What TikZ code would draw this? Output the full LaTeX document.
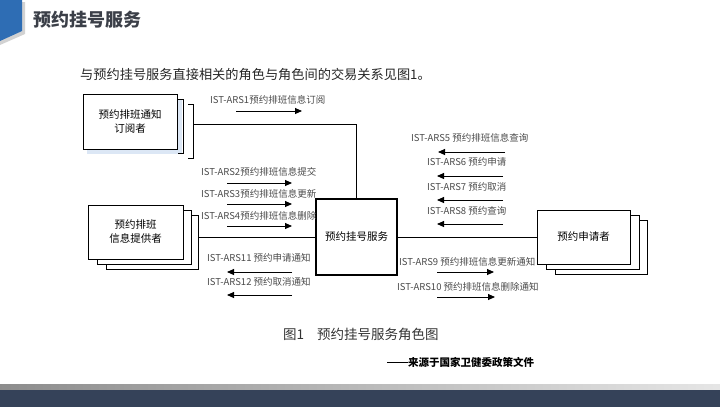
\documentclass[tikz,border=0pt]{standalone}
\usepackage{fontspec}
\setmainfont{Noto Sans CJK SC}
\usetikzlibrary{arrows.meta}
\definecolor{tabblue}{HTML}{2E6DB4}
\definecolor{titlegray}{HTML}{3B3F48}
\definecolor{bardark}{HTML}{354259}
\definecolor{labelgray}{HTML}{4A4A4A}
\definecolor{shadowblue}{HTML}{DCE7F5}
\tikzset{
  rolebox/.style={draw=black, fill=white, line width=0.9bp, inner sep=0pt, font=\fontsize{10.5bp}{14bp}\selectfont, align=center},
  layerbox/.style={draw=black, fill=white, line width=0.9bp, inner sep=0pt},
  flow/.style={line width=0.9bp, -{Triangle[length=7bp,width=6bp]}},
  link/.style={line width=0.8bp},
  msg/.style={anchor=west, inner sep=0pt, text=labelgray, font=\fontsize{9.5bp}{11bp}\selectfont},
}
\begin{document}
\begin{tikzpicture}[x=1bp,y=-1bp]
\useasboundingbox (0,0) rectangle (720,407);
% header tab
\fill[gray!35] (0,2) -- (25,2) -- (25,34) -- (0,45) -- cycle;
\fill[tabblue] (0,0) -- (22,0) -- (22,31) -- (0,41) -- cycle;
\node[anchor=west, inner sep=0pt, text=titlegray, font=\fontsize{18bp}{20bp}\selectfont\bfseries] (title) at (33,20) {预约挂号服务};
\node[anchor=west, inner sep=0pt, text=black!85, font=\fontsize{13.2bp}{15bp}\selectfont] (intro) at (80,74) {与预约挂号服务直接相关的角色与角色间的交易关系见图1。};

% subscriber box with soft shadow and brackets
\fill[shadowblue] (87,99) rectangle (182,154);
\node[rolebox, minimum width=94bp, minimum height=55bp] (sub) at (130,121.5) {预约排班通知\\订阅者};
\draw[link] (178,99) -- (183,99) -- (183,153) -- (178,153);
\draw[link] (188,104) -- (193,104) -- (193,158) -- (188,158);
\coordinate (brk) at (193,124);

% provider stack
\node[layerbox, minimum width=92bp, minimum height=54bp] (prov3) at (152,242) {};
\node[layerbox, minimum width=94bp, minimum height=54bp] (prov2) at (144,237) {};
\node[rolebox, minimum width=95bp, minimum height=54bp] (prov) at (135.5,232) {预约排班\\信息提供者};

% applicant stack
\node[layerbox, minimum width=92bp, minimum height=54bp] (app3) at (601,247) {};
\node[layerbox, minimum width=93bp, minimum height=54bp] (app2) at (592.5,242) {};
\node[rolebox, minimum width=93bp, minimum height=54bp] (app) at (583.5,237) {预约申请者};

% service
\node[rolebox, line width=1.6bp, minimum width=81bp, minimum height=76bp] (svc) at (356.5,237) {预约挂号服务};

% connectors
\draw[link] (brk) -| (svc.north);
\draw[link] (prov3.east |- svc.west) -- (svc.west);
\draw[link] (svc.east) -- (app.west);

% left messages
\node[msg] (m1) at (210,100) {IST-ARS1预约排班信息订阅};
\coordinate (a1s) at (236,111); \coordinate (a1e) at (302,111);
\draw[flow] (a1s) -- (a1e);
\node[msg] (m2) at (201,172) {IST-ARS2预约排班信息提交};
\coordinate (a2s) at (227,183); \coordinate (a2e) at (292,183);
\draw[flow] (a2s) -- (a2e);
\node[msg] (m3) at (201,194) {IST-ARS3预约排班信息更新};
\coordinate (a3s) at (227,204); \coordinate (a3e) at (292,204);
\draw[flow] (a3s) -- (a3e);
\node[msg] (m4) at (201,216) {IST-ARS4预约排班信息删除};
\coordinate (a4s) at (227,226); \coordinate (a4e) at (292,226);
\draw[flow] (a4s) -- (a4e);
\node[msg] (m11) at (207,258) {IST-ARS11 预约申请通知};
\coordinate (a11s) at (292,272); \coordinate (a11e) at (227,272);
\draw[flow] (a11s) -- (a11e);
\node[msg] (m12) at (207,282) {IST-ARS12 预约取消通知};
\coordinate (a12s) at (292,295); \coordinate (a12e) at (227,295);
\draw[flow] (a12s) -- (a12e);

% right messages
\node[msg] (m5) at (411,138) {IST-ARS5 预约排班信息查询};
\coordinate (a5s) at (505,152); \coordinate (a5e) at (438,152);
\draw[flow] (a5s) -- (a5e);
\node[msg] (m6) at (427,162) {IST-ARS6 预约申请};
\coordinate (a6s) at (503,176); \coordinate (a6e) at (437,176);
\draw[flow] (a6s) -- (a6e);
\node[msg] (m7) at (427,187) {IST-ARS7 预约取消};
\coordinate (a7s) at (503,200); \coordinate (a7e) at (437,200);
\draw[flow] (a7s) -- (a7e);
\node[msg] (m8) at (427,211) {IST-ARS8 预约查询};
\coordinate (a8s) at (503,224); \coordinate (a8e) at (437,224);
\draw[flow] (a8s) -- (a8e);
\node[msg] (m9) at (399,262) {IST-ARS9 预约排班信息更新通知};
\coordinate (a9s) at (437,272); \coordinate (a9e) at (494,272);
\draw[flow] (a9s) -- (a9e);
\node[msg] (m10) at (397,287) {IST-ARS10 预约排班信息删除通知};
\coordinate (a10s) at (437,297); \coordinate (a10e) at (495,297);
\draw[flow] (a10s) -- (a10e);

% caption and source
\node[anchor=west, inner sep=0pt, text=black!80, font=\fontsize{13.5bp}{15bp}\selectfont] (cap) at (283,334) {图1\hspace{13bp}预约挂号服务角色图};
\node[anchor=west, inner sep=0pt, text=black, font=\fontsize{10.5bp}{12bp}\selectfont\bfseries] (src) at (387,362) {\rule[0.33em]{21bp}{0.9bp}来源于国家卫健委政策文件};

% bottom bar
\shade[left color=black!45, right color=black!10] (0,384) rectangle (720,390);
\fill[bardark] (0,389.5) rectangle (720,407);
\end{tikzpicture}
\end{document}
